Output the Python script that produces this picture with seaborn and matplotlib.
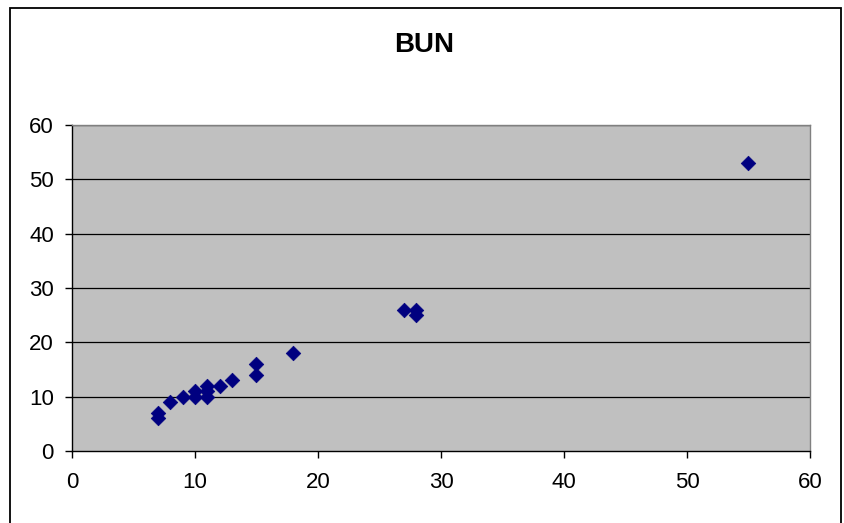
import matplotlib
matplotlib.use("Agg")
import matplotlib.pyplot as plt
import seaborn as sns
import pandas as pd
from matplotlib.patches import Rectangle

# values
x_vals = [7, 7, 8, 9, 10, 10, 11, 11, 11, 12, 13, 15, 15, 18, 27, 28, 28, 55]
y_vals = [6, 7, 9, 10, 10, 11, 10, 11, 12, 12, 13, 14, 16, 18, 26, 26, 25, 53]
ticks = [0, 10, 20, 30, 40, 50, 60]

df = pd.DataFrame({"x": x_vals, "y": y_vals})

sns.set_theme(style="white")
plt.rcParams["font.family"] = ["Liberation Sans", "DejaVu Sans"]

fig = plt.figure(figsize=(8.45, 5.23), dpi=100)
ax = fig.add_axes([72 / 845, 72 / 523, 738 / 845, 326 / 523])
ax.set_facecolor("#C0C0C0")

# chart area border (bottom edge runs off the image)
fig.patches.append(Rectangle((10 / 845, -10 / 523), 831 / 845, 525 / 523,
                             transform=fig.transFigure, fill=False,
                             edgecolor="black", linewidth=1.3))

for t in ticks[1:]:
    ax.axhline(t, color="black", linewidth=0.9, zorder=1)

sns.scatterplot(data=df, x="x", y="y", marker="D", s=55, color="#000080",
                edgecolor="#000080", linewidth=0.5, ax=ax, zorder=3)

ax.set_xlim(0, 60)
ax.set_ylim(0, 60)
ax.set_xticks(ticks)
ax.set_yticks(ticks)
ax.set_xlabel("")
ax.set_ylabel("")
ax.tick_params(axis="both", direction="out", length=5, width=1, color="black",
               labelsize=16, labelcolor="black", bottom=True, left=True)
ax.tick_params(axis="x", pad=10)
ax.tick_params(axis="y", pad=8)

for side in ["top", "right"]:
    ax.spines[side].set_color("#808080")
    ax.spines[side].set_linewidth(1)
for side in ["left", "bottom"]:
    ax.spines[side].set_color("black")
    ax.spines[side].set_linewidth(1)

fig.text(424 / 845, 1 - 45 / 523, "BUN", ha="center", va="center",
         fontsize=20, fontweight="bold", color="black")

fig.savefig("out.png", dpi=100)
